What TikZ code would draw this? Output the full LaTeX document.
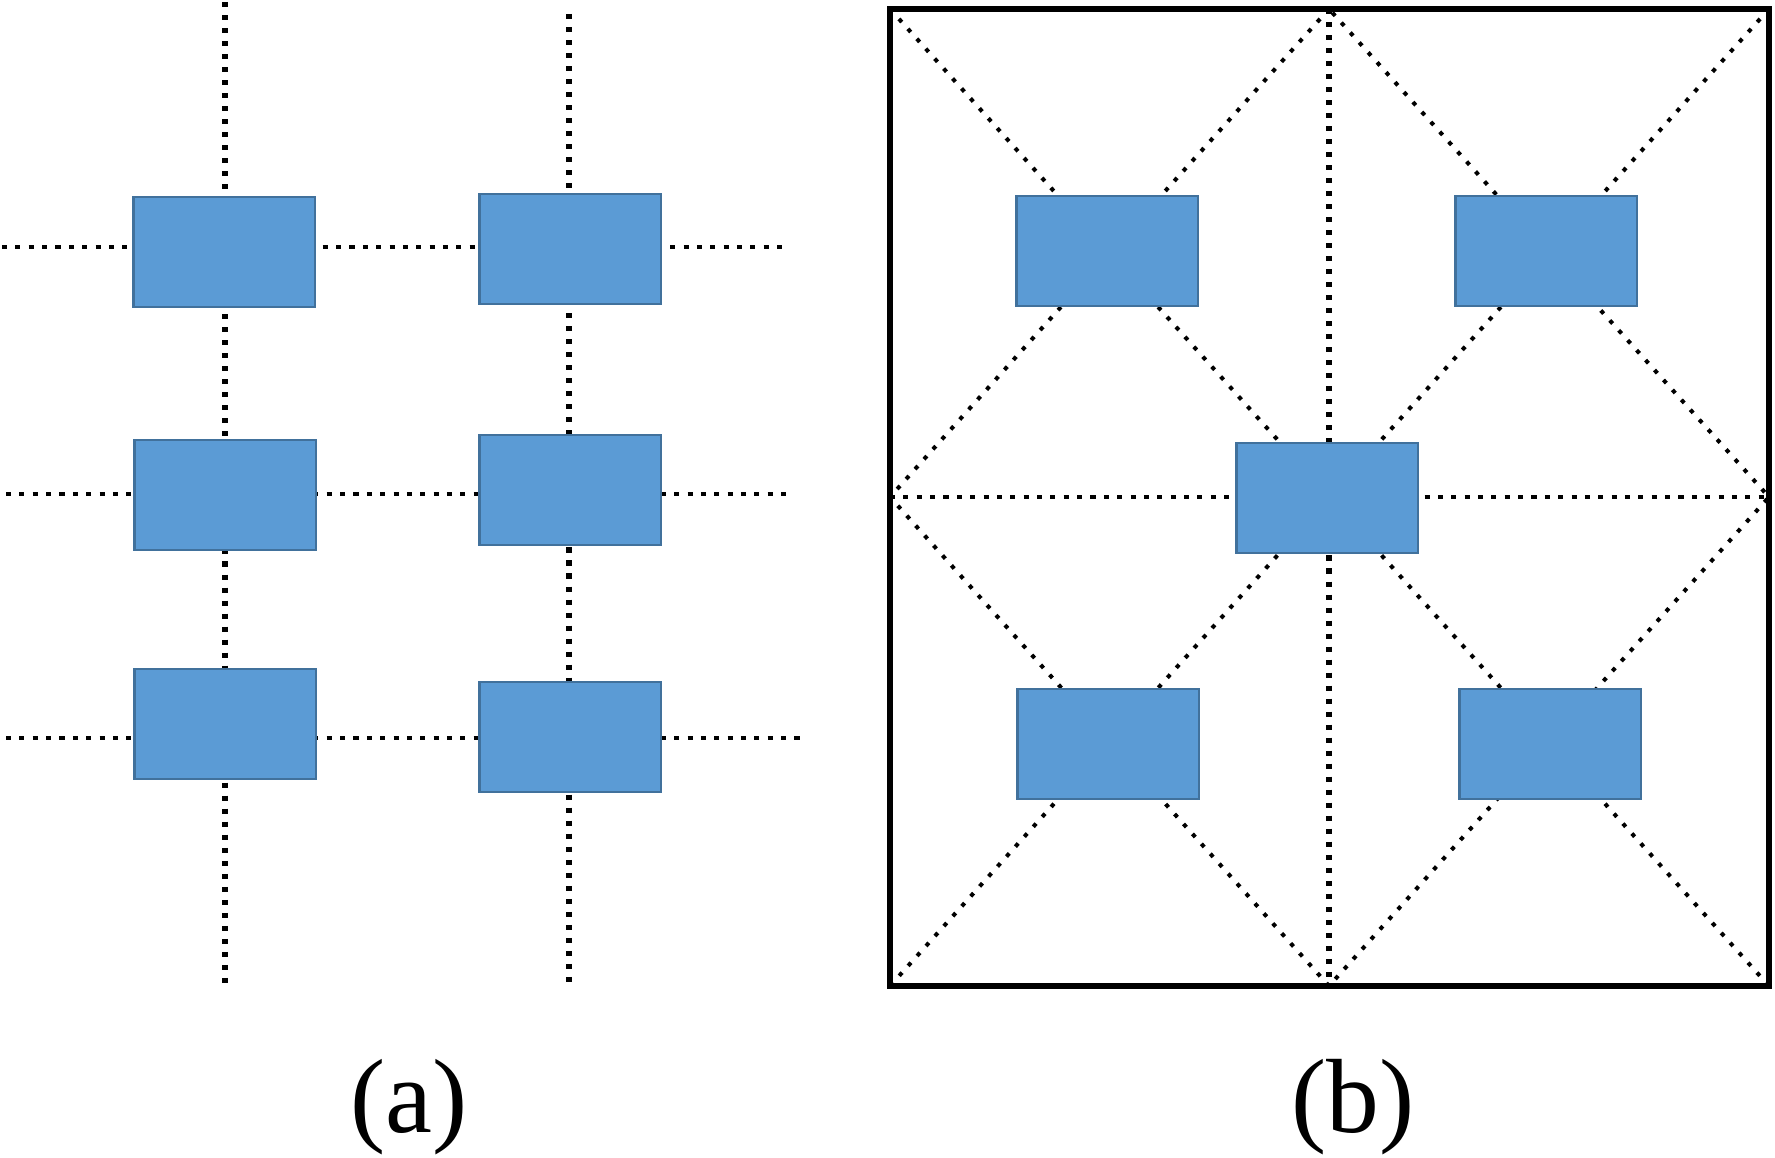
\documentclass[tikz,border=0pt]{standalone}
\usepackage{fontspec}
\setmainfont{Liberation Serif}
\definecolor{boxfill}{HTML}{5B9BD5}
\definecolor{boxedge}{HTML}{41719C}

\begin{document}
\begin{tikzpicture}[
    x=0.01cm, y=-0.01cm, % one unit is one pixel, y runs downward
    cellbox/.style={draw=boxedge, fill=boxfill, line width=0.6pt, minimum width=1.81cm, minimum height=1.1cm, inner sep=0pt}, % blue block
    hline/.style={line width=1.35pt, dash pattern=on 1.45pt off 2.35pt}, % dotted line
    vline/.style={line width=1.45pt, dash pattern=on 1.45pt off 2.25pt}, % heavier dotted line
    dline/.style={line width=1.15pt, dash pattern=on 1.2pt off 2.6pt}, % diagonal dotted line
    frameline/.style={line width=1.5pt}, % outer frame of (b)
    caption/.style={font=\fontsize{30}{34}\selectfont, inner sep=0pt}
]
\useasboundingbox (0,0) rectangle (1775,1158);

% (a) grid
\coordinate (v1t) at (225,2);
\coordinate (v1b) at (225,983);
\coordinate (v2t) at (569,14);
\coordinate (v2b) at (569,983);
\coordinate (h1l) at (2,247);
\coordinate (h1r) at (788,247);
\coordinate (h2l) at (6,494);
\coordinate (h2r) at (790,494);
\coordinate (h3l) at (6,738);
\coordinate (h3r) at (804,738);
\draw[vline] (v1t) -- (v1b);
\draw[vline] (v2t) -- (v2b);
\draw[hline] (h1l) -- (h1r);
\draw[hline] (h2l) -- (h2r);
\draw[hline] (h3l) -- (h3r);

\node[cellbox] (a11) at (224,252) {};
\node[cellbox] (a12) at (570,249) {};
\node[cellbox] (a21) at (225,495) {};
\node[cellbox] (a22) at (570,490) {};
\node[cellbox] (a31) at (225,724) {};
\node[cellbox] (a32) at (570,737) {};

% (b) frame with cross, diagonals and diamond
\coordinate (nw) at (890,9);
\coordinate (ne) at (1769,9);
\coordinate (sw) at (890,986);
\coordinate (se) at (1769,986);
\coordinate (n) at (1329,9);
\coordinate (s) at (1329,986);
\coordinate (w) at (890,497);
\coordinate (e) at (1769,497);
\draw[dline] (nw) -- (se);
\draw[dline] (ne) -- (sw);
\draw[dline] (n) -- (w) -- (s) -- (e) -- cycle;
\draw[vline] (n) -- (s);
\draw[hline] (w) -- (e);
\draw[frameline] (nw) rectangle (se);

\node[cellbox] (b1) at (1107,251) {};
\node[cellbox] (b2) at (1546,251) {};
\node[cellbox] (b0) at (1327,498) {};
\node[cellbox] (b3) at (1108,744) {};
\node[cellbox] (b4) at (1550,744) {};

\node[caption] (capA) at (409,1107) {(a)};
\node[caption] (capB) at (1353,1107) {(b)};
\end{tikzpicture}
\end{document}
